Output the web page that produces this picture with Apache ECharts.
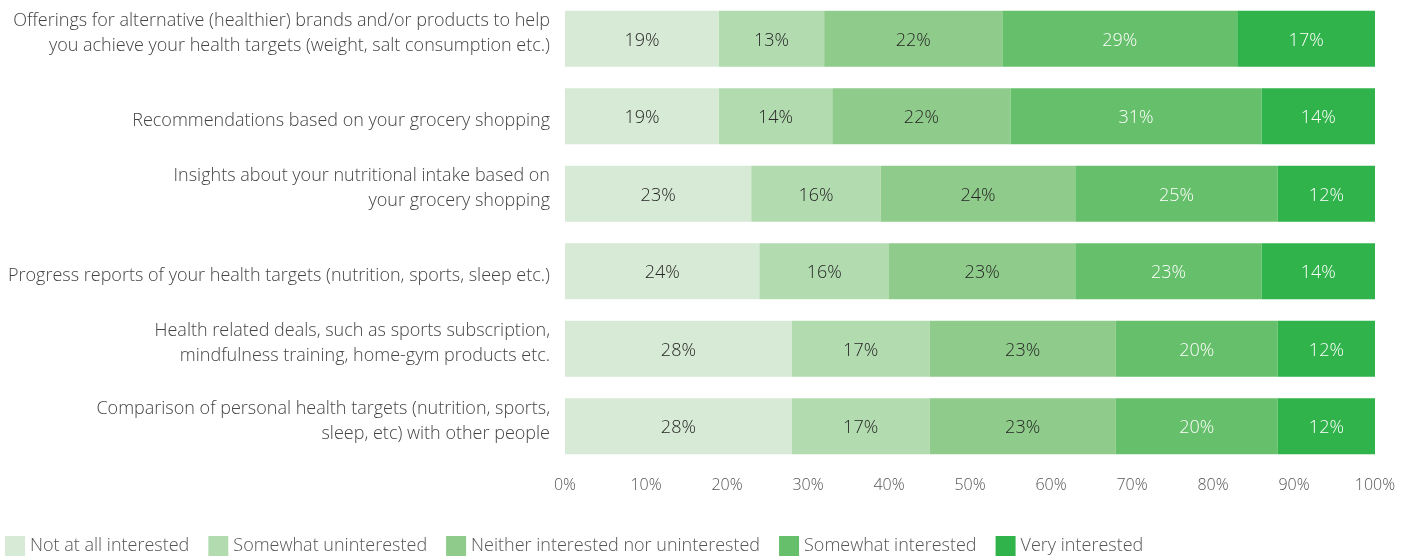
<!DOCTYPE html>
<html>
<head>
<meta charset="utf-8">
<script src="https://cdn.jsdelivr.net/npm/echarts@6/dist/echarts.min.js"></script>
<style>
    html, body { margin: 0; padding: 0; background: #fff; }
    #chart { width: 1401px; height: 556px; }
</style>
</head>
<body>
<div id="chart"></div>
<script>
const categories = [
    'Offerings for alternative (healthier) brands and/or products to help\nyou achieve your health targets (weight, salt consumption etc.)',
    'Recommendations based on your grocery shopping',
    'Insights about your nutritional intake based on\nyour grocery shopping',
    'Progress reports of your health targets (nutrition, sports, sleep etc.)',
    'Health related deals, such as sports subscription,\nmindfulness training, home-gym products etc.',
    'Comparison of personal health targets (nutrition, sports,\nsleep, etc) with other people',
];

const seriesNames = [
    'Not at all interested',
    'Somewhat uninterested',
    'Neither interested nor uninterested',
    'Somewhat interested',
    'Very interested',
];

const notAtAll = [19, 19, 23, 24, 28, 28];
const somewhatUn = [13, 14, 16, 16, 17, 17];
const neither = [22, 22, 24, 23, 23, 23];
const somewhatIn = [29, 31, 25, 23, 20, 20];
const veryIn = [17, 14, 12, 14, 12, 12];

const xTicks = [0, 10, 20, 30, 40, 50, 60, 70, 80, 90, 100];

const colors = ['#d7ead5', '#b3dbb0', '#8fcb8a', '#66bf6a', '#2fb34a'];
const labelColors = ['#262626', '#262626', '#262626', '#ffffff', '#ffffff'];
const font = '"Open Sans", sans-serif';

const chart = echarts.init(document.getElementById('chart'));

const values = [notAtAll, somewhatUn, neither, somewhatIn, veryIn];

// two-line labels sit a bit above the bar centre, one-liners a bit below:
// an empty spacer line pushes the block the right way
function categoryLabel(text) {
    const lines = text.split('\n');
    if (lines.length === 1) {
        return '{gapTop| }\n{t|' + text + '}';
    }
    return '{t|' + lines[0] + '}\n{t|' + lines[1] + '}\n{gapBottom| }';
}

const labelBase = { fontSize: 18, lineHeight: 25, color: '#444', fontWeight: 300, fontFamily: font, align: 'right' };

chart.setOption({
    animation: false,
    textStyle: { fontFamily: font },
    color: colors,
    grid: { left: 565, right: 26, top: 0, bottom: 91, containLabel: false },
    legend: {
        bottom: 0,
        left: 0,
        padding: [0, 5, 0, 5],
        itemWidth: 20,
        itemHeight: 20,
        itemGap: 19,
        icon: 'rect',
        textStyle: { fontSize: 18, color: '#555', fontWeight: 300, fontFamily: font, padding: [4, 0, 0, 0] },
        data: seriesNames,
    },
    xAxis: {
        type: 'value',
        min: xTicks[0],
        max: xTicks[xTicks.length - 1],
        interval: xTicks[1] - xTicks[0],
        splitLine: { show: false },
        axisLine: { show: false },
        axisTick: { show: false },
        axisLabel: {
            formatter: '{value}%',
            fontSize: 16,
            color: '#555',
            fontWeight: 300,
            margin: 12,
        },
    },
    yAxis: {
        type: 'category',
        inverse: true,
        data: categories,
        axisLine: { show: false },
        axisTick: { show: false },
        axisLabel: {
            fontSize: 18,
            lineHeight: 25,
            color: '#444',
            fontWeight: 300,
            margin: 15,
            align: 'right',
            formatter: categoryLabel,
            rich: {
                t: labelBase,
                gapTop: { fontSize: 6, lineHeight: 9 },
                gapBottom: { fontSize: 6, lineHeight: 10 },
            },
        },
    },
    series: seriesNames.map((name, i) => ({
        name,
        type: 'bar',
        stack: 'total',
        barWidth: 56,
        data: values[i],
        label: {
            show: true,
            position: 'inside',
            offset: [0, 2],
            formatter: '{c}%',
            fontSize: 18,
            fontWeight: 300,
            color: labelColors[i],
        },
        itemStyle: { color: colors[i] },
    })),
});
</script>
</body>
</html>
